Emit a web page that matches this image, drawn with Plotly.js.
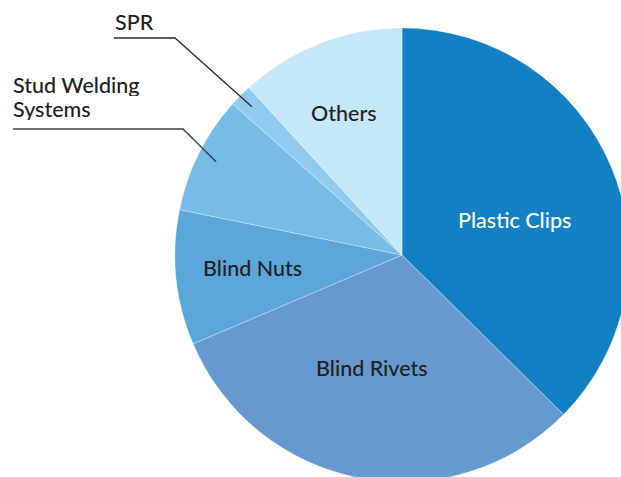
<!DOCTYPE html>
<html><head><meta charset="utf-8">
<script src="https://cdn.plot.ly/plotly-3.0.1.min.js"></script>
<style>html,body{margin:0;padding:0;overflow:hidden;background:#fff;width:621px;height:477px}#chart{width:640px;height:490px}</style>
</head><body><div id="chart"></div>
<script>
const categories = ["Plastic Clips","Blind Rivets","Blind Nuts","Stud Welding Systems","SPR","Others"];
const shares = [37.4, 31.2, 9.6, 8.4, 1.6, 11.8];
const sliceColors = ["#1380C4","#6699D0","#5BA7DC","#75BCE7","#8ECBEF","#C6E7F8"];

const W = 640, H = 490;
const cx = 402, cy = 255, R = 227;
const px = x => x / W, py = y => 1 - y / H;
const total = shares.reduce((a,b)=>a+b,0);
const mids = []; let acc = 0;
shares.forEach(v => { mids.push((acc + v/2) / total * 360); acc += v; });
const pt = (i, r) => { const a = mids[i] * Math.PI/180; return [cx + r*Math.sin(a), cy - r*Math.cos(a)]; };

const font = "Lato, 'Open Sans', sans-serif";
const fs = 21.5;
const inside = [
  {i:0, x:514, y:220, c:"#ffffff"},
  {i:1, x:372, y:368, c:"#231F20"},
  {i:2, x:252, y:268, c:"#231F20"},
  {i:5, x:344, y:113, c:"#231F20"}
];
const annotations = inside.map(o => ({
  x: px(o.x), y: py(o.y), xref:"paper", yref:"paper", showarrow:false,
  text: categories[o.i], font:{family:font, size:fs, color:o.c, weight:500},
  xanchor:"center", yanchor:"middle"
}));
annotations.push({x:px(113), y:py(22), xref:"paper", yref:"paper", showarrow:false,
  text:"SPR", font:{family:font, size:fs, color:"#231F20", weight:500}, xanchor:"left", yanchor:"middle"});
const studWords = categories[3].split(" ");
annotations.push({x:px(11), y:py(85), xref:"paper", yref:"paper", showarrow:false, align:"left", height:22,
  text:studWords.slice(0,2).join(" "), font:{family:font, size:fs, color:"#231F20", weight:500}, xanchor:"left", yanchor:"middle"});
annotations.push({x:px(11), y:py(109), xref:"paper", yref:"paper", showarrow:false, align:"left", height:22,
  text:studWords[2], font:{family:font, size:fs, color:"#231F20", weight:500}, xanchor:"left", yanchor:"middle"});

const sprEnd = pt(4, 211), studEnd = pt(3, 208);
const shapes = [
  {type:"path", xref:"paper", yref:"paper",
   path:`M ${px(114)} ${py(38)} L ${px(175)} ${py(38)} L ${px(sprEnd[0])} ${py(sprEnd[1])}`,
   line:{color:"#2b2b2b", width:1.3}},
  {type:"path", xref:"paper", yref:"paper",
   path:`M ${px(13)} ${py(129)} L ${px(183)} ${py(129)} L ${px(studEnd[0])} ${py(studEnd[1])}`,
   line:{color:"#444", width:1.5}}
];

Plotly.newPlot("chart", [{
  type:"pie", labels:categories, values:shares, sort:false, direction:"clockwise", rotation:0,
  marker:{colors:sliceColors, line:{color:"rgba(255,255,255,0.5)", width:0.6}},
  textinfo:"none", hoverinfo:"label+percent",
  domain:{x:[(cx-R)/W, (cx+R)/W], y:[1-(cy+R)/H, 1-(cy-R)/H]}
}], {
  width:W, height:H, margin:{l:0,r:0,t:0,b:0}, showlegend:false,
  paper_bgcolor:"#fff", annotations, shapes
}, {displayModeBar:false, staticPlot:true});
</script></body></html>
